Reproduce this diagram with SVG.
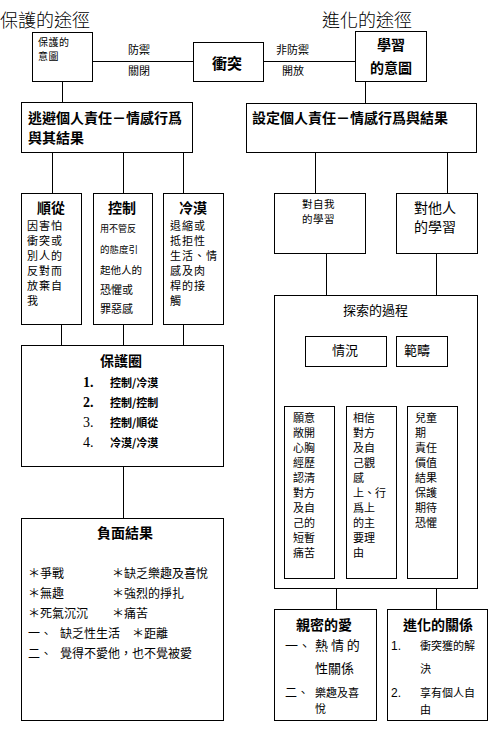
<svg xmlns="http://www.w3.org/2000/svg" width="498" height="731" viewBox="0 0 498 731">
<style>
rect{fill:#fff;stroke:#000;stroke-width:1}
line{stroke:#000;stroke-width:1}
text{font-family:"Noto Sans CJK TC","Noto Sans CJK SC",sans-serif;fill:#000}
.b{font-weight:bold}
.t{font-size:18px;font-weight:300}
.s11{font-size:11px}
.s12{font-size:12px}
.s13{font-size:13px}
.s14{font-size:14px}
.s15{font-size:15px}
.col{font-size:11px;letter-spacing:1px}
.n{font-family:"Liberation Serif",serif;font-size:14px}
</style>
<rect width="498" height="731" style="fill:#fff;stroke:none"/>
<text class="t" x="0" y="27">保護的途徑</text>
<text class="t" x="322" y="27">進化的途徑</text>
<g id="connectors">
<line x1="92" y1="61.5" x2="193" y2="61.5"/>
<line x1="263" y1="61.5" x2="355" y2="61.5"/>
<line x1="62.5" y1="81" x2="62.5" y2="102"/>
<line x1="365.5" y1="81" x2="365.5" y2="103"/>
<line x1="52.5" y1="152" x2="52.5" y2="193"/>
<line x1="123.5" y1="152" x2="123.5" y2="193"/>
<line x1="183.5" y1="152" x2="183.5" y2="193"/>
<line x1="61.5" y1="324" x2="61.5" y2="345"/>
<line x1="123.5" y1="324" x2="123.5" y2="345"/>
<line x1="183.5" y1="324" x2="183.5" y2="345"/>
<line x1="123.5" y1="466" x2="123.5" y2="518"/>
<line x1="315.5" y1="152" x2="315.5" y2="193"/>
<line x1="447.5" y1="152" x2="447.5" y2="193"/>
<line x1="326.5" y1="253" x2="326.5" y2="295"/>
<line x1="436.5" y1="253" x2="436.5" y2="295"/>
<line x1="326.5" y1="366" x2="326.5" y2="406"/>
<line x1="376.5" y1="366" x2="376.5" y2="406"/>
<line x1="427.5" y1="366" x2="427.5" y2="406"/>
<line x1="336.5" y1="588" x2="336.5" y2="609"/>
<line x1="436.5" y1="588" x2="436.5" y2="609"/>
<text class="s11" x="128" y="54">防禦</text>
<text class="s11" x="128" y="75">關閉</text>
<text class="s11" x="276" y="54">非防禦</text>
<text class="s11" x="282" y="75">開放</text>
</g>
<g id="protect-intent">
<rect x="32.5" y="32.5" width="60" height="49"/>
<text style="font-size:10px;letter-spacing:0.5px" x="38" y="45.5">保護的<tspan x="38" dy="14">意圖</tspan></text>
</g>
<g id="conflict">
<rect x="193.5" y="42.5" width="70" height="39"/>
<text class="s15 b" x="212" y="69">衝突</text>
</g>
<g id="learn-intent">
<rect x="355.5" y="31.5" width="71" height="50"/>
<text class="s14 b" x="377" y="50">學習<tspan x="370" dy="23">的意圖</tspan></text>
</g>
<g id="avoid">
<rect x="21.5" y="102.5" width="171" height="50"/>
<text class="s14 b" x="28" y="123">逃避個人責任－情感行爲<tspan x="28" dy="20">與其結果</tspan></text>
</g>
<g id="accept">
<rect x="246.5" y="103.5" width="230" height="49"/>
<text class="s14 b" x="252" y="123">設定個人責任－情感行爲與結果</text>
</g>
<g id="comply">
<rect x="21.5" y="193.5" width="60" height="131"/>
<text class="s14 b" x="37" y="213">順從</text>
<text class="col" x="27" y="230">因害怕<tspan x="27" dy="15">衝突或</tspan><tspan x="27" dy="15">別人的</tspan><tspan x="27" dy="15">反對而</tspan><tspan x="27" dy="15">放棄自</tspan><tspan x="27" dy="15">我</tspan></text>
</g>
<g id="control">
<rect x="93.5" y="193.5" width="59" height="131"/>
<text class="s14 b" x="108" y="213">控制</text>
<text x="100" y="232"><tspan style="font-size:9px">用不管反</tspan><tspan x="100" dy="21" style="font-size:9.5px">的態度引</tspan><tspan x="100" dy="21" style="font-size:10.5px">起他人的</tspan><tspan x="100" dy="20" style="font-size:11px">恐懼或</tspan><tspan x="100" dy="19" style="font-size:11px">罪惡感</tspan></text>
</g>
<g id="apathy">
<rect x="163.5" y="193.5" width="60" height="131"/>
<text class="s14 b" x="179" y="213">冷漠</text>
<text class="col" x="170" y="230">退縮或<tspan x="170" dy="15">抵拒性</tspan><tspan x="170" dy="15">生活、情</tspan><tspan x="170" dy="15">感及肉</tspan><tspan x="170" dy="15">桿的接</tspan><tspan x="170" dy="15">觸</tspan></text>
</g>
<g id="protect-circle">
<rect x="21.5" y="345.5" width="202" height="121"/>
<text class="s14 b" x="100" y="366">保護圈</text>
<text class="n b" x="83" y="387">1.</text>
<text class="s11 b" x="110" y="387">控制/冷漠</text>
<text class="n b" x="83" y="407">2.</text>
<text class="s11 b" x="110" y="407">控制/控制</text>
<text class="n" x="83" y="427">3.</text>
<text class="s11 b" x="110" y="427">控制/順從</text>
<text class="n" x="83" y="447">4.</text>
<text class="s11 b" x="110" y="447">冷漠/冷漠</text>
</g>
<g id="negative">
<rect x="21.5" y="518.5" width="202" height="202"/>
<text class="s14 b" x="97" y="538">負面結果</text>
<text class="s12" x="28" y="578">＊爭戰</text>
<text class="s12" x="112" y="578">＊缺乏樂趣及喜悅</text>
<text class="s12" x="28" y="598">＊無趣</text>
<text class="s12" x="112" y="598">＊強烈的掙扎</text>
<text class="s12" x="28" y="618">＊死氣沉沉</text>
<text class="s12" x="112" y="618">＊痛苦</text>
<text class="s12" x="28" y="638">一、</text>
<text class="s12" x="60" y="638">缺乏性生活</text>
<text class="s12" x="132" y="638">＊距離</text>
<text class="s12" x="28" y="658">二、</text>
<text class="s12" x="60" y="658">覺得不愛他，也不覺被愛</text>
</g>
<g id="self-learn">
<rect x="274.5" y="193.5" width="91" height="60"/>
<text style="font-size:10.5px;letter-spacing:0.5px" x="302" y="207.5">對自我<tspan x="302" dy="15">的學習</tspan></text>
</g>
<g id="other-learn">
<rect x="396.5" y="193.5" width="81" height="60"/>
<text class="s14" x="414" y="213">對他人<tspan x="414" dy="19">的學習</tspan></text>
</g>
<g id="explore">
<rect x="274.5" y="295.5" width="203" height="293"/>
<text class="s13" x="343" y="315">探索的過程</text>
</g>
<g id="situation">
<rect x="305.5" y="336.5" width="81" height="30"/>
<text class="s13" x="332" y="355">情況</text>
</g>
<g id="scope">
<rect x="396.5" y="336.5" width="51" height="30"/>
<text class="s13" x="404" y="355">範疇</text>
</g>
<g id="col1">
<rect x="284.5" y="406.5" width="50" height="172"/>
<text class="s11" x="293" y="422">願意<tspan x="293" dy="15">敞開</tspan><tspan x="293" dy="15">心胸</tspan><tspan x="293" dy="15">經歷</tspan><tspan x="293" dy="15">認清</tspan><tspan x="293" dy="15">對方</tspan><tspan x="293" dy="15">及自</tspan><tspan x="293" dy="15">己的</tspan><tspan x="293" dy="15">短暫</tspan><tspan x="293" dy="15">痛苦</tspan></text>
</g>
<g id="col2">
<rect x="346.5" y="406.5" width="50" height="172"/>
<text class="s11" x="353" y="422">相信<tspan x="353" dy="15">對方</tspan><tspan x="353" dy="15">及自</tspan><tspan x="353" dy="15">己觀</tspan><tspan x="353" dy="15">感</tspan><tspan x="353" dy="15">上、行</tspan><tspan x="353" dy="15">爲上</tspan><tspan x="353" dy="15">的主</tspan><tspan x="353" dy="15">要理</tspan><tspan x="353" dy="15">由</tspan></text>
</g>
<g id="col3">
<rect x="407.5" y="406.5" width="50" height="172"/>
<text class="s11" x="415" y="422">兒童<tspan x="415" dy="15">期</tspan><tspan x="415" dy="15">責任</tspan><tspan x="415" dy="15">價值</tspan><tspan x="415" dy="15">結果</tspan><tspan x="415" dy="15">保護</tspan><tspan x="415" dy="15">期待</tspan><tspan x="415" dy="15">恐懼</tspan></text>
</g>
<g id="intimate-love">
<rect x="274.5" y="609.5" width="102" height="111"/>
<text class="s14 b" x="296" y="630">親密的愛</text>
<text class="s13" x="285" y="650">一、</text>
<text class="s13" x="315" y="650">熱 情 的<tspan x="315" dy="23">性關係</tspan></text>
<text class="s12" x="285" y="697">二、</text>
<text class="s11" x="315" y="697">樂趣及喜<tspan x="315" dy="16">悅</tspan></text>
</g>
<g id="evolve-rel">
<rect x="387.5" y="609.5" width="100" height="111"/>
<text class="s14 b" x="403" y="630">進化的關係</text>
<text class="s12" style="font-family:'Liberation Sans',sans-serif" x="391" y="650">1.</text>
<text class="s11" x="420" y="650">衝突獲的解<tspan x="420" dy="23">決</tspan></text>
<text class="s12" style="font-family:'Liberation Sans',sans-serif" x="391" y="697">2.</text>
<text class="s11" x="420" y="697">享有個人自<tspan x="420" dy="17">由</tspan></text>
</g>
</svg>
